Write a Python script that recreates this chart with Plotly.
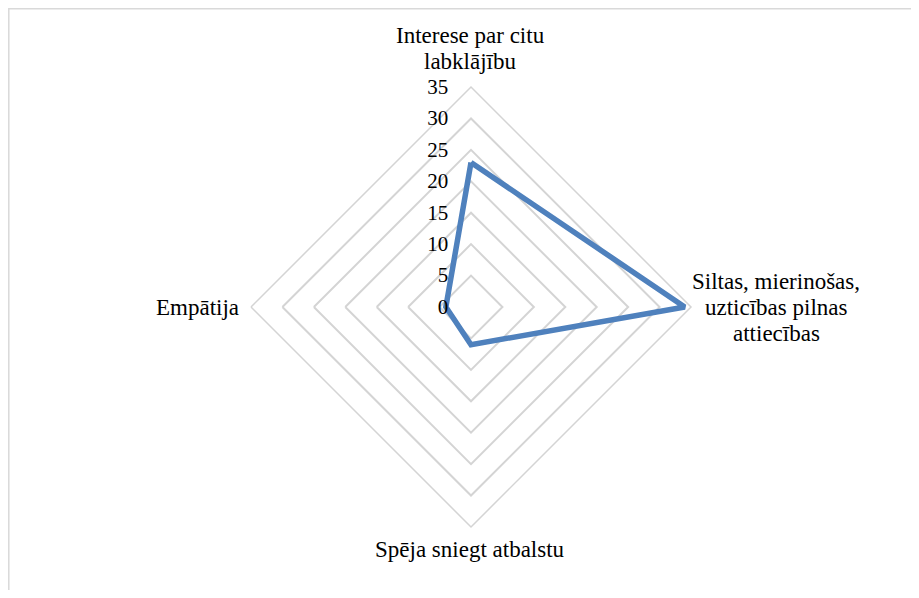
import plotly.graph_objects as go

categories = [
    "Interese par citu labklājību",
    "Siltas, mierinošas, uzticības pilnas attiecības",
    "Spēja sniegt atbalstu",
    "Empātija",
]
label_lines = [
    ["Interese par citu", "labklājību"],
    ["Siltas, mierinošas,", "uzticības pilnas", "attiecības"],
    ["Spēja sniegt atbalstu"],
    ["Empātija"],
]
values = [23, 34, 6, 4]
radial_ticks = [0, 5, 10, 15, 20, 25, 30, 35]

# the page body has an 8px margin, so the figure is 16px smaller than the window
W, H = 903, 582
cx, cy, R = 463, 299, 220

fig = go.Figure()
fig.add_trace(go.Scatterpolar(
    r=values + values[:1],
    theta=categories + categories[:1],
    mode="lines",
    line=dict(color="#4F81BD", width=5.5),
    hoverinfo="skip",
    showlegend=False,
))

FONT = "Liberation Serif, Times New Roman, serif"

fig.update_layout(
    width=W, height=H,
    margin=dict(l=0, r=0, t=0, b=0),
    paper_bgcolor="white",
    font=dict(family=FONT, color="black"),
    polar=dict(
        domain=dict(x=[(cx - R) / W, (cx + R) / W],
                    y=[(H - cy - R) / H, (H - cy + R) / H]),
        bgcolor="white",
        gridshape="linear",
        angularaxis=dict(
            rotation=90, direction="clockwise",
            showgrid=False, showline=True, linecolor="#D4D4D4", linewidth=1.5,
            ticks="", showticklabels=False,
        ),
        radialaxis=dict(
            range=[0, 35], tickvals=radial_ticks, ticktext=[str(t) for t in radial_ticks],
            angle=90, tickangle=90, side="counterclockwise",
            showline=False, ticks="outside", ticklen=15, tickcolor="rgba(0,0,0,0)",
            gridcolor="#D4D4D4", gridwidth=1.5,
            tickfont=dict(size=21, family=FONT),
        ),
    ),
    shapes=[dict(type="rect", xref="paper", yref="paper",
                 x0=0.8 / W, x1=1.02, y0=-0.02, y1=1 - 0.8 / H,
                 line=dict(color="#D9D9D9", width=1.5), fillcolor="rgba(0,0,0,0)", layer="below")],
)

# category labels placed around the chart (first-line centre y, line spacing 26px)
label_pos = [
    (462, 27, "center"),
    (768, 273, "center"),
    (462, 541, "center"),
    (233, 299, "right"),
]
for lines, (x, y, xa) in zip(label_lines, label_pos):
    for i, line in enumerate(lines):
        fig.add_annotation(x=x / W, y=1 - (y + 26 * i) / H, xref="paper", yref="paper",
                           text=line, showarrow=False, xanchor=xa, yanchor="middle",
                           font=dict(size=23, family=FONT, color="black"))

fig.write_html("out.html")
